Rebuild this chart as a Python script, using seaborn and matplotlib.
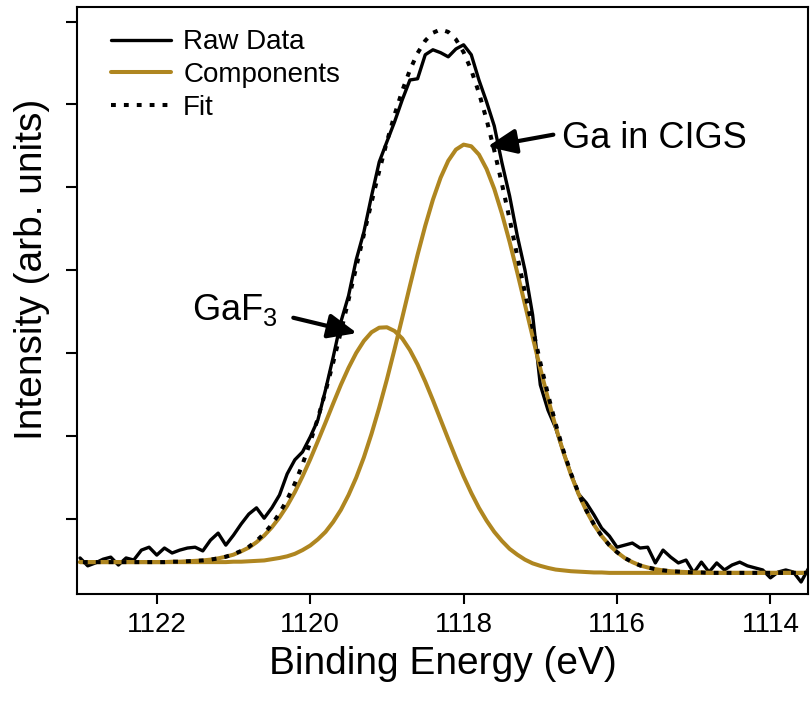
import numpy as np
import pandas as pd
import matplotlib
matplotlib.use("Agg")
import matplotlib.pyplot as plt
import seaborn as sns
from matplotlib.ticker import MultipleLocator

sns.set_theme(style="white")
plt.rcParams['font.family'] = ['Liberation Sans', 'DejaVu Sans']
plt.rcParams['mathtext.fontset'] = 'custom'
plt.rcParams['mathtext.rm'] = 'Liberation Sans'
for k in ['text.color', 'axes.labelcolor', 'xtick.color', 'ytick.color', 'axes.edgecolor']:
    plt.rcParams[k] = 'black'

# Binding energy grid (eV), 1123.0 -> 1113.5 in 0.1 eV steps
energy = np.round(np.arange(1123.0, 1113.45, -0.1), 1)

raw = [0.05, -0.14, -0.07, 0.02, 0.07, -0.12, 0.05, 0.00, 0.24, 0.31,
       0.12, 0.29, 0.17, 0.24, 0.29, 0.31, 0.22, 0.48, 0.65, 0.36,
       0.60, 0.87, 1.11, 1.26, 1.01, 1.26, 1.57, 2.08, 2.42, 2.61,
       2.97, 3.38, 4.11, 4.90, 5.75, 6.38, 7.25, 7.92, 8.79, 9.61,
       10.10, 10.58, 11.11, 11.59, 11.62, 12.20, 12.32, 12.25, 12.15, 12.34,
       12.44, 12.20, 11.59, 11.06, 10.48, 9.59, 8.79, 7.83, 7.00, 5.92,
       4.23, 3.62, 3.19, 2.61, 2.08, 1.59, 1.38, 1.09, 0.77, 0.58,
       0.31, 0.36, 0.41, 0.29, 0.31, -0.07, 0.24, 0.07, -0.07, 0.00,
       -0.31, -0.05, -0.29, -0.07, -0.24, -0.12, -0.05, -0.14, -0.19, -0.24,
       -0.43, -0.29, -0.24, -0.29, -0.53, -0.19]

gaf3 = [-0.05, -0.05, -0.05, -0.05, -0.05, -0.05, -0.05, -0.05, -0.05, -0.05,
        -0.05, -0.05, -0.04, -0.04, -0.03, -0.02, -0.01, 0.01, 0.04, 0.08,
        0.13, 0.21, 0.30, 0.43, 0.59, 0.79, 1.03, 1.31, 1.64, 2.02,
        2.43, 2.87, 3.32, 3.78, 4.23, 4.64, 5.00, 5.29, 5.50, 5.61,
        5.62, 5.53, 5.35, 5.07, 4.72, 4.31, 3.86, 3.39, 2.92, 2.46,
        2.02, 1.62, 1.26, 0.95, 0.68, 0.46, 0.27, 0.13, 0.01, -0.08,
        -0.14, -0.19, -0.23, -0.25, -0.27, -0.28, -0.29, -0.30, -0.30, -0.31,
        -0.31, -0.31, -0.31, -0.31, -0.31, -0.31, -0.31, -0.31, -0.31, -0.31,
        -0.31, -0.31, -0.31, -0.31, -0.31, -0.31, -0.31, -0.31, -0.31, -0.31,
        -0.31, -0.31, -0.31, -0.31, -0.31, -0.31]

cigs = [-0.05, -0.05, -0.05, -0.05, -0.05, -0.05, -0.05, -0.05, -0.05, -0.05,
        -0.05, -0.05, -0.05, -0.05, -0.05, -0.05, -0.05, -0.05, -0.05, -0.05,
        -0.04, -0.04, -0.03, -0.02, -0.01, 0.02, 0.05, 0.09, 0.15, 0.24,
        0.35, 0.50, 0.68, 0.92, 1.21, 1.57, 1.99, 2.48, 3.05, 3.68,
        4.36, 5.09, 5.85, 6.62, 7.37, 8.07, 8.70, 9.23, 9.64, 9.91,
        10.03, 9.99, 9.79, 9.44, 8.96, 8.36, 7.68, 6.94, 6.17, 5.39,
        4.62, 3.90, 3.22, 2.61, 2.06, 1.59, 1.19, 0.85, 0.58, 0.36,
        0.19, 0.05, -0.05, -0.13, -0.18, -0.22, -0.25, -0.27, -0.28, -0.29,
        -0.30, -0.30, -0.31, -0.31, -0.31, -0.31, -0.31, -0.31, -0.31, -0.31,
        -0.31, -0.31, -0.31, -0.31, -0.31, -0.31]

fit = [-0.05, -0.05, -0.05, -0.05, -0.05, -0.05, -0.05, -0.05, -0.05, -0.05,
       -0.05, -0.05, -0.04, -0.04, -0.03, -0.02, -0.01, 0.01, 0.04, 0.08,
       0.14, 0.22, 0.32, 0.46, 0.64, 0.86, 1.13, 1.46, 1.85, 2.31,
       2.84, 3.42, 4.07, 4.77, 5.51, 6.28, 7.07, 7.86, 8.64, 9.39,
       10.10, 10.75, 11.33, 11.83, 12.24, 12.54, 12.73, 12.81, 12.75, 12.57,
       12.26, 11.83, 11.28, 10.63, 9.89, 9.08, 8.23, 7.34, 6.46, 5.60,
       4.77, 4.00, 3.29, 2.65, 2.09, 1.61, 1.20, 0.86, 0.58, 0.36,
       0.19, 0.05, -0.05, -0.13, -0.18, -0.22, -0.25, -0.27, -0.28, -0.29,
       -0.30, -0.30, -0.31, -0.31, -0.31, -0.31, -0.31, -0.31, -0.31, -0.31,
       -0.31, -0.31, -0.31, -0.31, -0.31, -0.31]

orange = "#AF8620"
fig = plt.figure(figsize=(8.12, 7.09), dpi=100)
ax = fig.add_axes([77/812, 1 - 594/709, (808-77)/812, (594-6.7)/709])

df = pd.DataFrame({"E": energy, "raw": raw, "gaf3": gaf3, "cigs": cigs, "fit": fit})
sns.lineplot(data=df, x="E", y="raw", ax=ax, color="black", lw=2.4, label="Raw Data")
sns.lineplot(data=df, x="E", y="gaf3", ax=ax, color=orange, lw=2.9, label="Components")
sns.lineplot(data=df, x="E", y="cigs", ax=ax, color=orange, lw=2.9, label="_nolegend_")
sns.lineplot(data=df, x="E", y="fit", ax=ax, color="black", lw=2.9, label="Fit",
             linestyle=(0, (1.2, 2.0)))

ax.set_xlim(1123.04, 1113.51)
ax.set_ylim(-0.82, 13.36)
ax.xaxis.set_major_locator(MultipleLocator(2))
ax.xaxis.set_minor_locator(MultipleLocator(1))
ax.yaxis.set_major_locator(MultipleLocator(2, offset=1))
ax.yaxis.set_minor_locator(MultipleLocator(1))
ax.set_yticklabels([])
ax.tick_params(axis='both', which='both', direction='out', width=1.5, color='black')
ax.tick_params(axis='x', which='major', length=7, labelsize=20, pad=6)
ax.tick_params(axis='x', which='minor', length=4)
ax.tick_params(axis='y', which='major', length=8)
ax.tick_params(axis='y', which='minor', length=3.5)
ax.tick_params(left=True, bottom=True)
for sp in ax.spines.values():
    sp.set_linewidth(1.5)
    sp.set_color("black")
ax.set_xlabel("Binding Energy (eV)", fontsize=28, labelpad=6)
ax.set_ylabel("Intensity (arb. units)", fontsize=28)
ax.yaxis.set_label_coords(-0.037, 0.552)

arrow = dict(arrowstyle="-|>,head_length=0.7,head_width=0.3", lw=3,
             color="black", shrinkA=0, shrinkB=0)
ax.text(1120.43, 5.80, "GaF$_3$", fontsize=26, ha="right", va="baseline")
ax.annotate("", xy=(1119.39, 5.48), xytext=(1120.22, 5.85), fontsize=25, arrowprops=arrow)
ax.text(1116.716, 9.95, "Ga in CIGS", fontsize=26, ha="left", va="baseline")
ax.annotate("", xy=(1117.69, 9.98), xytext=(1116.83, 10.27), fontsize=25, arrowprops=arrow)

ax.legend(loc="upper left", bbox_to_anchor=(0.0156, 1.0), frameon=False, fontsize=20,
          handlelength=2.16, handletextpad=0.43, labelspacing=0.24, borderaxespad=0.42)
fig.savefig("out.png", dpi=100)
